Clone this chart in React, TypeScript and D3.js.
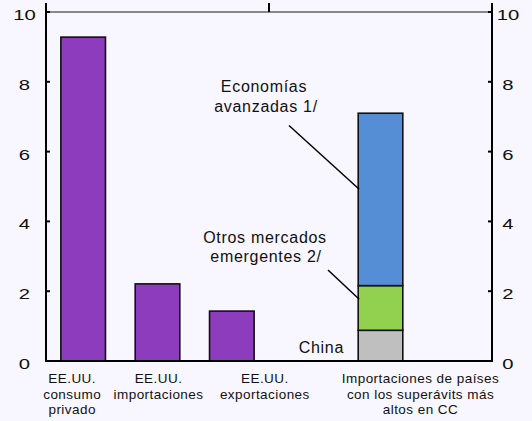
import React from "react";
import * as d3 from "d3";

const categories = ["c1", "c2", "c3", "gap", "c4", "end"];
const categoryLabels: string[][] = [
  ["EE.UU.", "consumo", "privado"],
  ["EE.UU.", "importaciones"],
  ["EE.UU.", "exportaciones"],
  [],
  ["Importaciones de países", "con los superávits más", "altos en CC"],
  [],
];
const usValues = [9.28, 2.21, 1.43];
const stackKeys = ["China", "Otros mercados emergentes 2/", "Economías avanzadas 1/"];
const stackValues = [0.88, 1.28, 4.94];
const stackColors = ["#BFBFBF", "#92D050", "#558ED5"];
const yTicks = [0, 2, 4, 6, 8, 10];

const W = 532;
const H = 421;
const left = 46;
const right = 492;
const top = 12;
const bottom = 361;
// label centre offsets relative to the bar centre (layout, not data)
const labelShift = [-11, 1, 33, 0, 40, 0];

function T({ x, y, sx = 1, anchor = "middle", size = 15, ls = 0, children }: any) {
  return (
    <text transform={`translate(${x},${y}) scale(${sx},1)`} textAnchor={anchor} fontSize={size} letterSpacing={ls} fill="#111">
      {children}
    </text>
  );
}

export default function App() {
  const x = d3.scaleBand<string>().domain(categories).range([left, right]).paddingInner(0.4).paddingOuter(0.2);
  const y = d3.scaleLinear().domain([0, 10]).range([bottom, top]);
  const bw = x.bandwidth();
  const stacked = d3.cumsum(stackValues);
  const font = "'Liberation Sans', Arial, sans-serif";
  const stackX = x("c4") as number;
  return (
    <svg width={W} height={H} style={{ position: "absolute", left: 0, top: 0 }} fontFamily={font}>
      <rect x={0} y={0} width={W} height={H} fill="#F8F6FE" />
      {usValues.map((v, i) => (
        <rect key={i} x={x(categories[i])} y={y(v)} width={bw} height={y(0) - y(v)} fill="#8E3CBE" stroke="#111" strokeWidth={1.6} />
      ))}
      {stackValues.map((v, i) => {
        const y0 = i === 0 ? 0 : stacked[i - 1];
        const y1 = stacked[i];
        return <rect key={stackKeys[i]} x={stackX} y={y(y1)} width={bw} height={y(y0) - y(y1)} fill={stackColors[i]} stroke="#111" strokeWidth={1.6} />;
      })}
      <line x1={left} x2={right} y1={top} y2={top} stroke="#888" strokeWidth={2} />
      {[left, (left + right) / 2, right].map((tx, i) => (
        <line key={i} x1={tx} x2={tx} y1={3} y2={top} stroke="#000" strokeWidth={2} />
      ))}
      <line x1={left} x2={left} y1={top} y2={bottom + 1} stroke="#000" strokeWidth={2} />
      <line x1={right} x2={right} y1={top} y2={bottom + 1} stroke="#000" strokeWidth={2} />
      <line x1={left - 1} x2={right + 1} y1={bottom} y2={bottom} stroke="#000" strokeWidth={2} />
      {yTicks.map((t) => (
        <g key={t}>
          <line x1={left} x2={left + 4} y1={y(t)} y2={y(t)} stroke="#000" strokeWidth={2} />
          <line x1={right - 4} x2={right} y1={y(t)} y2={y(t)} stroke="#000" strokeWidth={2} />
          <T x={24.5} y={y(t) + 8} sx={1.35}>{t}</T>
          <T x={508} y={y(t) + 8} sx={1.35}>{t}</T>
        </g>
      ))}
      {categories.map((c, i) =>
        categoryLabels[i].map((line, j) => (
          <T key={c + j} x={(x(c) as number) + bw / 2 + labelShift[i]} y={383 + j * 15.5} size={13.5} ls={0.45}>{line}</T>
        ))
      )}
      <T x={264} y={91.5} size={16} ls={0.7}>Economías</T>
      <T x={266} y={111.5} size={16} ls={0.7}>avanzadas 1/</T>
      <line x1={289} y1={125.5} x2={stackX + 1} y2={y(4.92)} stroke="#000" strokeWidth={1.5} />
      <T x={265} y={242.5} size={16} ls={0.7}>Otros mercados</T>
      <T x={266} y={261.5} size={16} ls={0.7}>emergentes 2/</T>
      <line x1={328} y1={270} x2={stackX + 1} y2={y(1.77)} stroke="#000" strokeWidth={1.5} />
      <T x={344} y={352.5} anchor="end" size={16} ls={0.7}>China</T>
    </svg>
  );
}
